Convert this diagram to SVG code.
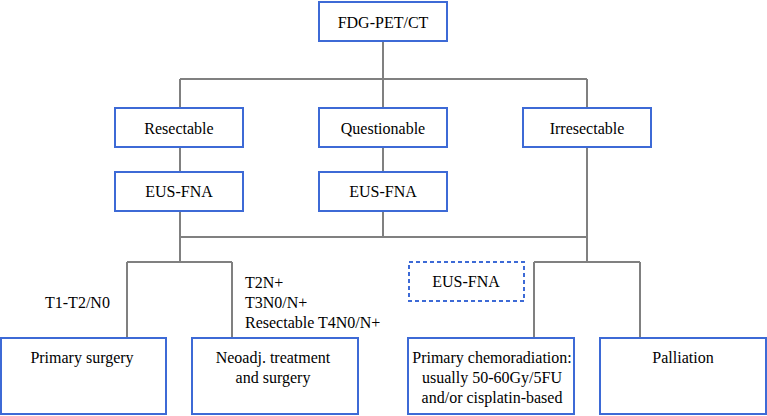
<svg xmlns="http://www.w3.org/2000/svg" width="767" height="416" viewBox="0 0 767 416" font-family="'Liberation Serif', 'Times New Roman', Times, serif">
<style>
.box{fill:#fff;stroke:#3d6ad6;stroke-width:2}
.dash{fill:#fff;stroke:#3d6ad6;stroke-width:2;stroke-dasharray:4 3}
.ln{fill:none;stroke:#808080;stroke-width:2}
text{font-family:'Liberation Serif','Times New Roman',Times,serif;font-size:16px;fill:#000}
.c{text-anchor:middle}
</style>
<rect width="767" height="416" fill="#fff"/>
<g id="connectors">
<path class="ln" d="M383 41V79M180 79H587M180 79V108M383 79V108M587 79V108"/>
<path class="ln" d="M180 147V172M383 147V172"/>
<path class="ln" d="M180 211V237M383 211V237M587 147V237M180 237H587"/>
<path class="ln" d="M180 237V262M127 262H232M127 262V338M232 262V338"/>
<path class="ln" d="M587 237V262M534 262H640M534 262V338M640 262V338"/>
</g>
<g id="fdg"><rect class="box" x="319" y="2" width="128" height="39"/><text class="c" x="383" y="28">FDG-PET/CT</text></g>
<g id="resectable"><rect class="box" x="115" y="108" width="128" height="39"/><text class="c" x="179" y="134">Resectable</text></g>
<g id="questionable"><rect class="box" x="319" y="108" width="128" height="39"/><text class="c" x="383" y="134">Questionable</text></g>
<g id="irresectable"><rect class="box" x="523" y="108" width="128" height="39"/><text class="c" x="587" y="134">Irresectable</text></g>
<g id="eus1"><rect class="box" x="115" y="172" width="128" height="39"/><text class="c" x="179" y="197">EUS-FNA</text></g>
<g id="eus2"><rect class="box" x="319" y="172" width="128" height="39"/><text class="c" x="383" y="197">EUS-FNA</text></g>
<g id="eus3"><rect class="dash" x="409" y="262" width="115" height="39"/><text class="c" x="466" y="287">EUS-FNA</text></g>
<g id="labels">
<text x="45" y="308">T1-T2/N0</text>
<text x="245" y="288">T2N+</text>
<text x="245" y="308">T3N0/N+</text>
<text x="245" y="328">Resectable T4N0/N+</text>
</g>
<g id="surgery"><rect class="box" x="1" y="338" width="165" height="76"/><text class="c" x="82" y="363">Primary surgery</text></g>
<g id="neoadj"><rect class="box" x="192" y="338" width="166" height="76"/><text class="c" x="273" y="363">Neoadj. treatment</text><text class="c" x="273" y="383">and surgery</text></g>
<g id="chemo"><rect class="box" x="408" y="338" width="166" height="76"/><text class="c" x="492" y="363">Primary chemoradiation:</text><text class="c" x="492" y="383">usually 50-60Gy/5FU</text><text class="c" x="492" y="403">and/or cisplatin-based</text></g>
<g id="palliation"><rect class="box" x="600" y="338" width="166" height="76"/><text class="c" x="683" y="363">Palliation</text></g>
</svg>
